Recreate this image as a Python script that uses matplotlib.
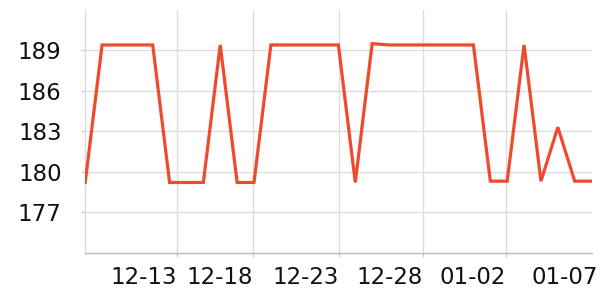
import matplotlib
matplotlib.use("Agg")
import matplotlib.pyplot as plt
from matplotlib.ticker import FixedLocator, FixedFormatter, NullFormatter

# Daily values 12-08 .. 01-07
values = [179.2, 189.4, 189.4, 189.4, 189.4, 179.2, 179.2, 179.2, 189.4, 179.2,
          179.2, 189.4, 189.4, 189.4, 189.4, 189.4, 179.2, 189.5, 189.4, 189.4,
          189.4, 189.4, 189.4, 189.4, 179.3, 179.3, 189.4, 179.3, 183.3, 179.3,
          179.3]
x_idx = list(range(len(values)))

tick_labels = ["12-13", "12-18", "12-23", "12-28", "01-02", "01-07"]
label_pos = [3.48, 7.96, 13.05, 18.03, 22.95, 28.42]
grid_pos = [5.45, 9.95, 15.05, 20.02, 24.94]
y_ticks = [177, 180, 183, 186, 189]

fig = plt.figure(figsize=(6, 3), dpi=100)
ax = fig.add_axes([0.142, 0.158, 0.844, 0.809])

ax.plot(x_idx, values, color="#EF4A2E", linewidth=2.3, solid_joinstyle="miter", zorder=3)

ax.set_xlim(0, 30)
ax.set_ylim(174, 192)

ax.xaxis.set_major_locator(FixedLocator(grid_pos))
ax.xaxis.set_major_formatter(NullFormatter())
ax.xaxis.set_minor_locator(FixedLocator(label_pos))
ax.xaxis.set_minor_formatter(FixedFormatter(tick_labels))
ax.tick_params(axis="x", which="major", length=3, color="#cccccc", width=1)
ax.tick_params(axis="x", which="minor", length=0, pad=10, labelsize=16.5, labelcolor="#111111")

ax.set_yticks(y_ticks)
ax.set_yticklabels([str(v) for v in y_ticks])
ax.tick_params(axis="y", length=3, color="#cccccc", width=1, pad=14, labelsize=16.5, labelcolor="#111111")

ax.grid(True, which="major", color="#dddddd", linewidth=1)
ax.set_axisbelow(True)

for s in ["top", "right"]:
    ax.spines[s].set_visible(False)
ax.spines["left"].set_color("#dddddd")
ax.spines["bottom"].set_color("#bbbbbb")
ax.spines["left"].set_linewidth(1)
ax.spines["bottom"].set_linewidth(1)

fig.savefig("out.png", dpi=100)
